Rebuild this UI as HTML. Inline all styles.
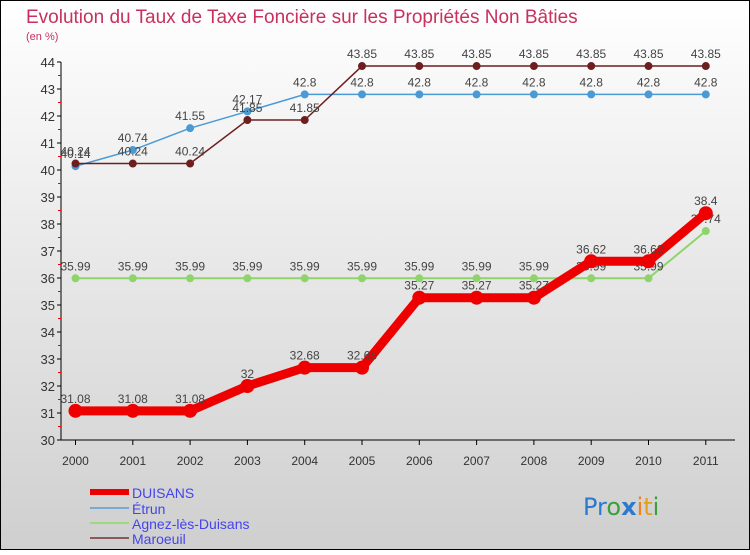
<!DOCTYPE html>
<html><head><meta charset="utf-8"><style>
html,body{margin:0;padding:0}
body{width:750px;height:550px;overflow:hidden;font-family:"Liberation Sans",sans-serif}
</style></head><body>
<svg width="750" height="550" xmlns="http://www.w3.org/2000/svg">
<defs><linearGradient id="bg" x1="0" y1="0" x2="0" y2="1"><stop offset="0" stop-color="#ffffff"/><stop offset="1" stop-color="#cfcfcf"/></linearGradient></defs>
<rect x="0.5" y="0.5" width="749" height="549" fill="url(#bg)" stroke="#000"/>
<text x="26" y="23" font-size="19" fill="#c8305e">Evolution du Taux de Taxe Foncière sur les Propriétés Non Bâties</text>
<text x="26" y="40" font-size="11" fill="#c8305e">(en %)</text>
<g id="axes"></g>
<g id="series"></g>
<g id="legend" font-size="14" fill="#4444ee"></g>
<text x="583" y="515" font-size="24" font-family="DejaVu Sans, sans-serif"><tspan fill="#2a7bd0">Pr</tspan><tspan fill="#3aa03a">o</tspan><tspan fill="#2a7bd0" font-weight="bold">x</tspan><tspan fill="#f08020">i</tspan><tspan fill="#e0a020">t</tspan><tspan fill="#3aa03a">i</tspan></text>
</svg>
<script>
const years=[2000,2001,2002,2003,2004,2005,2006,2007,2008,2009,2010,2011];
const duisans=[31.08,31.08,31.08,32,32.68,32.68,35.27,35.27,35.27,36.62,36.62,38.4];
const etrun=[40.14,40.74,41.55,42.17,42.8,42.8,42.8,42.8,42.8,42.8,42.8,42.8];
const agnez=[35.99,35.99,35.99,35.99,35.99,35.99,35.99,35.99,35.99,35.99,35.99,37.74];
const maroeuil=[40.24,40.24,40.24,41.85,41.85,43.85,43.85,43.85,43.85,43.85,43.85,43.85];
const etrunLabels=["40.14","40.74","41.55","42.17","42.8","42.8","42.8","42.8","42.8","42.8","42.8","42.8"];
const yTicks=[30,31,32,33,34,35,36,37,38,39,40,41,42,43,44];
const NS="http://www.w3.org/2000/svg";
const X=i=>75.5+i*57.3;
const Y=v=>440-(v-30)*27;
function mk(t,a,p){const e=document.createElementNS(NS,t);for(const k in a)e.setAttribute(k,a[k]);p.appendChild(e);return e;}
const ax=document.getElementById('axes');
let l=mk('line',{x1:61,y1:62,x2:61,y2:440,stroke:'#000'},ax);


l=mk('line',{x1:61,y1:440,x2:735,y2:440,stroke:'#000'},ax);


yTicks.forEach(v=>{
 mk('line',{x1:57,y1:Y(v),x2:61,y2:Y(v),stroke:'#000'},ax);
 if(v<44) mk('line',{x1:58,y1:Y(v+0.5),x2:61,y2:Y(v+0.5),stroke:'#e00'},ax);
 const t=mk('text',{x:55,y:Y(v)+5,'text-anchor':'end','font-size':13,fill:'#333'},ax);
 t.textContent=v;
 
 
});
years.forEach((yr,i)=>{
 mk('line',{x1:X(i),y1:440,x2:X(i),y2:445,stroke:'#000'},ax);
 const t=mk('text',{x:X(i),y:465,'text-anchor':'middle','font-size':12,fill:'#333'},ax);
 t.textContent=yr;
 
 
});
const sg=document.getElementById('series');
function series(vals,labels,color,w,r,name){
 const g=mk('g',{},sg);
 
 
 mk('polyline',{points:vals.map((v,i)=>X(i)+','+Y(v)).join(' '),fill:'none',stroke:color,'stroke-width':w},g);
 vals.forEach((v,i)=>{
  const c=mk('circle',{cx:X(i),cy:Y(v),r:r,fill:color},g);
  
  
  const t=mk('text',{x:X(i),y:Y(v)-8,'text-anchor':'middle','font-size':12,fill:'#444'},g);
  t.textContent=labels?labels[i]:String(v);
  
  
 });
}
series(agnez,null,'#8fd46a',2,4,'agnez');
series(etrun,etrunLabels,'#4a9ad6',1.5,4,'etrun');
series(maroeuil,null,'#6e1e1e',1.5,4,'maroeuil');
series(duisans,null,'#ee0000',9,7,'duisans');
const lg=document.getElementById('legend');
const leg=[["DUISANS","#ee0000",6,492],["Étrun","#7aaad0",2,508],["Agnez-lès-Duisans","#a0d880",2,523],["Maroeuil","#8a5a5a",2,538]];
leg.forEach(([n,c,w,y])=>{
 const g=mk('g',{},lg);
 
 
 mk('line',{x1:90,y1:y,x2:129,y2:y,stroke:c,'stroke-width':w},g);
 const t=mk('text',{x:132,y:y+6},g);
 t.textContent=n;
});
</script>
</body></html>
